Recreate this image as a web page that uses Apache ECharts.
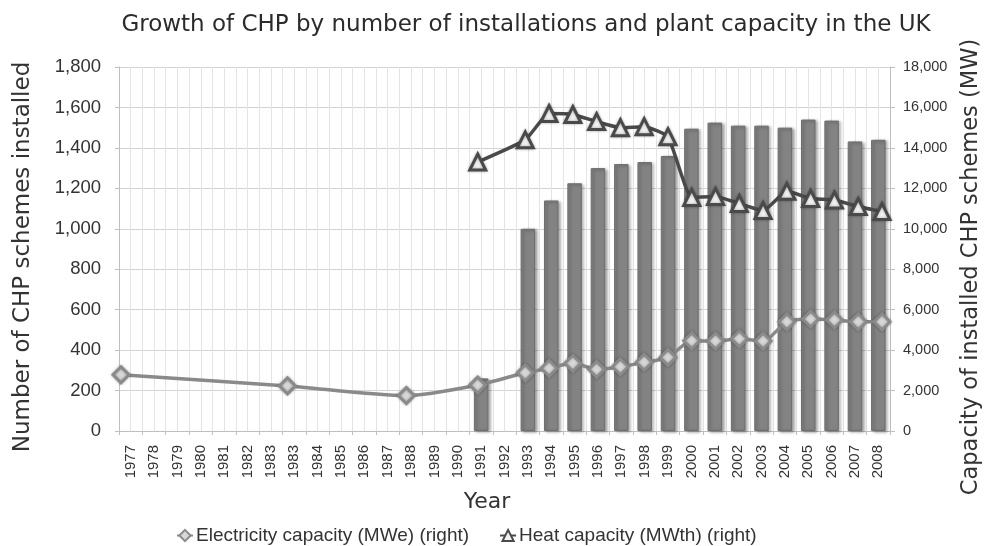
<!DOCTYPE html>
<html>
<head>
<meta charset="utf-8">
<script src="https://cdn.jsdelivr.net/npm/echarts@6/dist/echarts.min.js"></script>
<style>
  html, body { margin: 0; padding: 0; background: #ffffff; }
  #chp { width: 991px; height: 546px; }
</style>
</head>
<body>
<div id="chp"></div>
<script>
// categories (1983 really is in the source twice)
var years = ['1977', '1978', '1979', '1980', '1981', '1982', '1983', '1983', '1984', '1985',
    '1986', '1987', '1988', '1989', '1990', '1991', '1992', '1993', '1994', '1995', '1996',
    '1997', '1998', '1999', '2000', '2001', '2002', '2003', '2004', '2005', '2006', '2007', '2008']

// number of schemes installed (left axis)
var schemes = [null, null, null, null, null, null, null, null, null, null,
    null, null, null, null, null, 260, null, 1000, 1140, 1225, 1300,
    1320, 1330, 1360, 1495, 1525, 1510, 1510, 1500, 1540, 1535, 1432, 1440]

// electricity capacity MWe (right axis)
var elecCap = [2780, null, null, null, null, null, null, 2230, null, null,
    null, null, 1750, null, null, 2270, null, 2880, 3100, 3350, 3050,
    3180, 3400, 3640, 4460, 4450, 4560, 4450, 5400, 5540, 5490, 5400, 5400]

// heat capacity MWth (right axis)
var heatCap = [null, null, null, null, null, null, null, null, null, null,
    null, null, null, null, null, 13300, null, 14400, 15700, 15650, 15300,
    15000, 15050, 14550, 11550, 11600, 11250, 10900, 11850, 11500, 11420, 11100, 10850]

var leftTicks = { min: 0, max: 1800, interval: 200 }
var rightTicks = { min: 0, max: 18000, interval: 2000 }

// helper for the half-category vertical gridlines
var halfCats = []
for (var i = 0; i < years.length * 2; i++) halfCats.push('')

var myChart = echarts.init(document.getElementById('chp'))

var fmt = function (v) { return v.toLocaleString('en-US') }

option = {
    backgroundColor: '#ffffff',
    animation: false,
    title: {
        text: 'Growth of CHP by number of installations and plant capacity in the UK',
        left: 521,
        textAlign: 'center',
        top: 9,
        textStyle: {
            fontFamily: 'DejaVu Sans',
            fontWeight: 'normal',
            fontSize: 23,
            color: '#2b2b2b'
        }
    },
    legend: {
        top: 521,
        left: 171,
        itemGap: 30,
        itemWidth: 16,
        itemHeight: 14,
        data: ['Electricity capacity (MWe) (right)', 'Heat capacity (MWth) (right)'],
        textStyle: {
            fontFamily: 'Liberation Sans',
            fontSize: 19,
            color: '#333333',
            padding: [0, 0, 0, -2]
        }
    },
    grid: [
        { left: 119, right: 96, top: 67, bottom: 115 },
        // line series sit on their own horizontal span, as in the source
        { left: 121, right: 109, top: 67, bottom: 115 }
    ],
    xAxis: [{
        type: 'category',
        gridIndex: 0,
        data: years,
        boundaryGap: true,
        name: 'Year',
        nameLocation: 'middle',
        nameGap: 60,
        nameTextStyle: {
            fontFamily: 'DejaVu Sans',
            fontSize: 22,
            color: '#333333',
            padding: [0, 35, 0, 0]
        },
        axisLine: { lineStyle: { color: '#bfbfbf' } },
        axisTick: { show: true, interval: 0, length: 4, lineStyle: { color: '#bfbfbf' } },
        axisLabel: {
            interval: 0,
            rotate: 90,
            margin: 14,
            fontFamily: 'Liberation Sans',
            fontSize: 15,
            color: '#333333'
        },
        splitLine: { show: true, interval: 0, lineStyle: { color: '#dcdcdc' } }
    }, {
        type: 'category',
        gridIndex: 1,
        data: years,
        boundaryGap: false,
        show: true,
        axisLine: { show: false },
        axisTick: { show: false },
        axisLabel: { show: false, interval: 0 },
        splitLine: { show: false }
    }, {
        type: 'category',
        gridIndex: 0,
        data: halfCats,
        boundaryGap: true,
        axisLine: { show: false },
        axisTick: { show: false },
        axisLabel: { show: false },
        splitLine: { show: true, interval: 0, lineStyle: { color: '#e4e4e4' } },
        z: 0
    }],
    yAxis: [{
        type: 'value',
        gridIndex: 0,
        min: leftTicks.min,
        max: leftTicks.max,
        interval: leftTicks.interval,
        name: 'Number of CHP schemes installed',
        nameLocation: 'middle',
        nameGap: 84,
        nameTextStyle: {
            fontFamily: 'DejaVu Sans',
            fontSize: 23,
            color: '#333333',
            padding: [0, 16, 0, 0]
        },
        axisLine: { show: true, lineStyle: { color: '#bfbfbf' } },
        axisTick: { show: true, length: 4, lineStyle: { color: '#bfbfbf' } },
        axisLabel: {
            margin: 18,
            fontFamily: 'Liberation Sans',
            fontSize: 18.5,
            color: '#333333',
            formatter: fmt
        },
        splitLine: { show: true, lineStyle: { color: '#d4d4d4' } }
    }, {
        type: 'value',
        gridIndex: 0,
        position: 'right',
        min: rightTicks.min,
        max: rightTicks.max,
        interval: rightTicks.interval,
        name: 'Capacity of installed CHP schemes (MW)',
        nameLocation: 'middle',
        nameGap: 70,
        nameRotate: 90,
        nameTextStyle: {
            fontFamily: 'DejaVu Sans',
            fontSize: 22.5,
            color: '#333333',
            padding: [0, 36, 0, 0]
        },
        axisLine: { show: true, lineStyle: { color: '#bfbfbf' } },
        axisTick: { show: true, length: 5, lineStyle: { color: '#bfbfbf' } },
        axisLabel: {
            margin: 13,
            fontFamily: 'Liberation Sans',
            fontSize: 14.5,
            color: '#333333',
            formatter: fmt
        },
        splitLine: { show: false }
    }, {
        type: 'value',
        gridIndex: 1,
        min: rightTicks.min,
        max: rightTicks.max,
        interval: rightTicks.interval,
        show: false
    }],
    series: [{
        name: 'CHP schemes',
        type: 'bar',
        xAxisIndex: 0,
        yAxisIndex: 0,
        data: schemes,
        barWidth: '62%',
        itemStyle: {
            color: '#838383',
            borderColor: '#6e6e6e',
            borderWidth: 1,
            shadowColor: 'rgba(0,0,0,0.35)',
            shadowBlur: 3,
            shadowOffsetX: 2,
            shadowOffsetY: 1
        },
        z: 2
    }, {
        name: 'Electricity capacity (MWe) (right)',
        type: 'line',
        xAxisIndex: 1,
        yAxisIndex: 2,
        data: elecCap,
        connectNulls: true,
        showSymbol: true,
        showAllSymbol: true,
        smooth: 0.25,
        symbol: 'diamond',
        symbolSize: 16,
        lineStyle: { color: '#8a8a8a', width: 3.5 },
        itemStyle: {
            color: '#d8d8d8',
            borderColor: '#8a8a8a',
            borderWidth: 3,
            shadowColor: 'rgba(0,0,0,0.3)',
            shadowBlur: 3
        },
        z: 4
    }, {
        name: 'Heat capacity (MWth) (right)',
        type: 'line',
        xAxisIndex: 1,
        yAxisIndex: 2,
        data: heatCap,
        connectNulls: true,
        showSymbol: true,
        showAllSymbol: true,
        smooth: 0.15,
        symbol: 'triangle',
        symbolSize: 16,
        lineStyle: { color: '#4a4a4a', width: 3.5 },
        itemStyle: {
            color: '#f2f2f2',
            borderColor: '#4a4a4a',
            borderWidth: 3,
            shadowColor: 'rgba(0,0,0,0.3)',
            shadowBlur: 3
        },
        z: 5
    }]
}

myChart.setOption(option)
</script>
</body>
</html>
